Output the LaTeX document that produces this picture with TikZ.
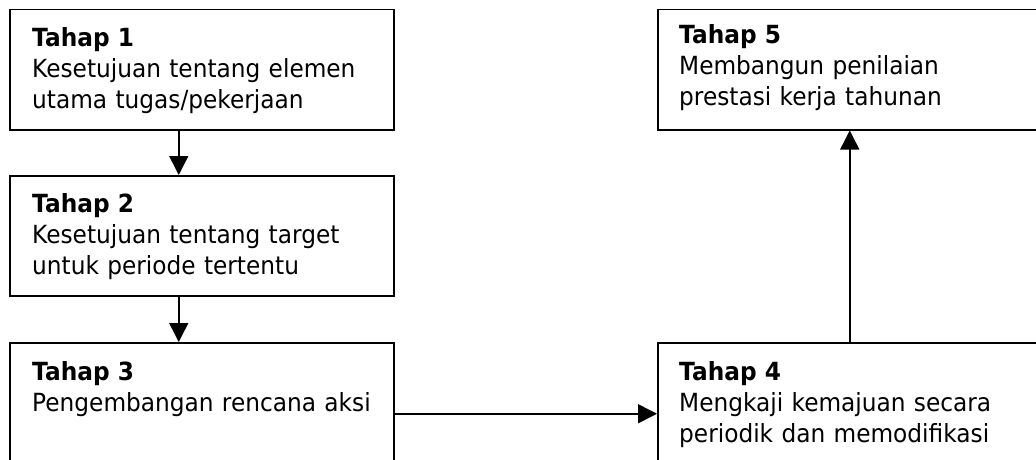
\documentclass[tikz,border=0pt]{standalone}
\usepackage{fontspec}
\setmainfont{DejaVu Sans}[FakeStretch=0.93]
\usetikzlibrary{arrows.meta}
\tikzset{
  tahap/.style={shape=rectangle, draw=black, line width=1.5pt, anchor=north west, minimum width=384pt, inner sep=0pt},
  isi/.style={anchor=base west, align=left, text width=350pt, inner sep=0pt, font=\fontsize{25}{31}\selectfont},
  panah/.style={line width=1.5pt, -{Triangle[length=19pt,width=19pt]}}
}
\begin{document}
\begin{tikzpicture}[x=1pt,y=-1pt]
\useasboundingbox[fill=white] (0,0) rectangle (1036,460);

\node[tahap, minimum height=120pt](T1) at (9,9) {};
\node[tahap, minimum height=120pt](T2) at (9,175) {};
\node[tahap, minimum height=142pt](T3) at (9,342) {};
\node[tahap, minimum height=142pt](T4) at (657,342) {};
\node[tahap, minimum height=120pt](T5) at (657,9) {};

\node[isi](L1) at ([shift={(23pt,-38pt)}]T1.north west) {\textbf{Tahap 1}\\Kesetujuan tentang elemen\\utama tugas/pekerjaan};
\node[isi](L2) at ([shift={(23pt,-37pt)}]T2.north west) {\textbf{Tahap 2}\\Kesetujuan tentang target\\untuk periode tertentu};
\node[isi](L3) at ([shift={(23pt,-38pt)}]T3.north west) {\textbf{Tahap 3}\\Pengembangan rencana aksi};
\node[isi](L4) at ([shift={(22pt,-38pt)}]T4.north west) {\textbf{Tahap 4}\\Mengkaji kemajuan secara\\periodik dan memodifikasi};
\node[isi](L5) at ([shift={(22pt,-35pt)}]T5.north west) {\textbf{Tahap 5}\\Membangun penilaian\\prestasi kerja tahunan};

\path[panah] ([xshift=-23pt]T1.south) edge ([xshift=-23pt]T2.north);
\path[panah] ([xshift=-23pt]T2.south) edge ([xshift=-23pt]T3.north);
\path[panah] (T3.east) edge (T4.west);
\path[panah] (T4.north) edge (T5.south);
\end{tikzpicture}
\end{document}
